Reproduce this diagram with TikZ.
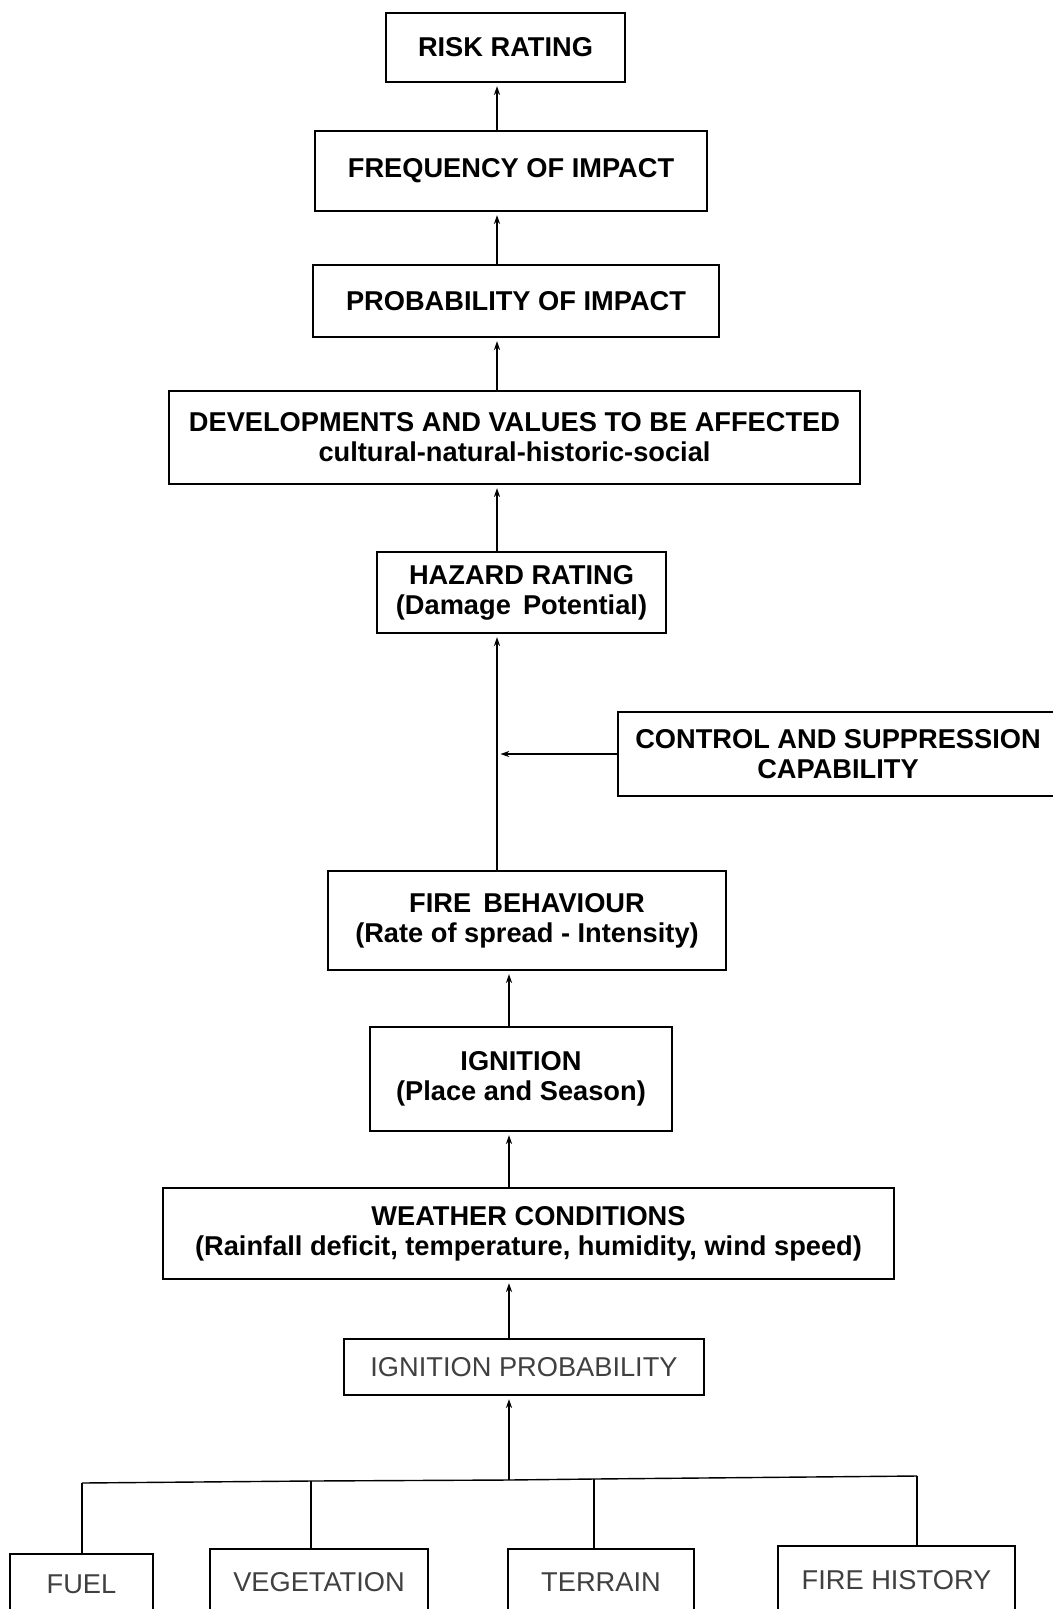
\documentclass[tikz,border=0pt]{standalone}
\usepackage{fontspec}
\setmainfont{Liberation Sans}
\usetikzlibrary{arrows.meta}
\newcommand\flowfont{\fontsize{15.5}{17}\selectfont\bfseries}
\newcommand\litefont{\fontsize{15.5}{17}\selectfont}
\begin{document}
\begin{tikzpicture}[x=0.02cm,y=-0.02cm,line width=0.8pt,
  stage/.style={draw,align=center,inner sep=2pt,font=\flowfont},
  litestage/.style={draw,align=center,inner sep=2pt,font=\litefont,text=black!75},
  arr/.style={-{Stealth[length=5pt,width=3.5pt]},shorten >=2pt}]
 \useasboundingbox (0,0) rectangle (1053,1609);
 \clip (0,0) rectangle (1053,1609);
 \node[stage,minimum width=4.78cm,minimum height=1.38cm] (risk) at (505.5,47.5) {RISK RATING};
 \node[stage,minimum width=7.84cm,minimum height=1.6cm] (freq) at (511,171) {FREQUENCY OF IMPACT};
 \node[stage,minimum width=8.12cm,minimum height=1.44cm] (prob) at (516,301) {PROBABILITY OF IMPACT};
 \node[stage,minimum width=13.82cm,minimum height=1.86cm] (dev) at (514.5,437.5) {DEVELOPMENTS AND VALUES TO BE AFFECTED\\cultural-natural-historic-social};
 \node[stage,minimum width=5.78cm,minimum height=1.62cm] (haz) at (521.5,592.5) {HAZARD RATING\\(Damage\, Potential)};
 \node[stage,minimum width=8.8cm,minimum height=1.68cm] (ctrl) at (838,754) {CONTROL AND SUPPRESSION\\CAPABILITY};
 \node[stage,minimum width=7.96cm,minimum height=1.98cm] (fire) at (527,920.5) {FIRE\, BEHAVIOUR\\(Rate of spread - Intensity)};
 \node[stage,minimum width=6.04cm,minimum height=2.08cm] (ign) at (521,1079) {IGNITION\\(Place and Season)};
 \node[stage,minimum width=14.62cm,minimum height=1.82cm] (wthr) at (528.5,1233.5) {WEATHER CONDITIONS\\(Rainfall deficit, temperature, humidity, wind speed)};
 \node[litestage,minimum width=7.2cm,minimum height=1.12cm] (iprob) at (524,1367) {IGNITION PROBABILITY};
 \node[litestage,minimum width=2.86cm,minimum height=1.22cm] (fuel) at (81.5,1584.5) {FUEL};
 \node[litestage,minimum width=4.36cm,minimum height=1.32cm] (veg) at (319,1582) {VEGETATION};
 \node[litestage,minimum width=3.72cm,minimum height=1.32cm] (terr) at (601,1582) {TERRAIN};
 \node[litestage,minimum width=4.74cm,minimum height=1.38cm] (hist) at (896.5,1580.5) {FIRE HISTORY};
 \coordinate (sa) at (497,0);
 \coordinate (sb) at (509,0);
 \draw[arr] (freq.north -| sa) -- (risk.south -| sa);
 \draw[arr] (prob.north -| sa) -- (freq.south -| sa);
 \draw[arr] (dev.north -| sa) -- (prob.south -| sa);
 \draw[arr] (haz.north -| sa) -- (dev.south -| sa);
 \draw[arr] (fire.north -| sa) -- (haz.south -| sa);
 \draw[arr] (ctrl.west) -- (ctrl.west -| sa);
 \draw[arr] (ign.north -| sb) -- (fire.south -| sb);
 \draw[arr] (wthr.north -| sb) -- (ign.south -| sb);
 \draw[arr] (iprob.north -| sb) -- (wthr.south -| sb);
 \coordinate (bj) at (509,1480);
 \coordinate (fj) at (82,1483);
 \coordinate (vj) at (311,1481);
 \coordinate (tj) at (594,1479);
 \coordinate (hj) at (917,1476);
 \draw[arr] (bj) -- (iprob.south -| bj);
 \draw (fj) -- (vj) -- (bj) -- (tj) -- (hj);
 \draw (fj) -- (fj |- fuel.north);
 \draw (vj) -- (vj |- veg.north);
 \draw (tj) -- (tj |- terr.north);
 \draw (hj) -- (hj |- hist.north);
\end{tikzpicture}
\end{document}
